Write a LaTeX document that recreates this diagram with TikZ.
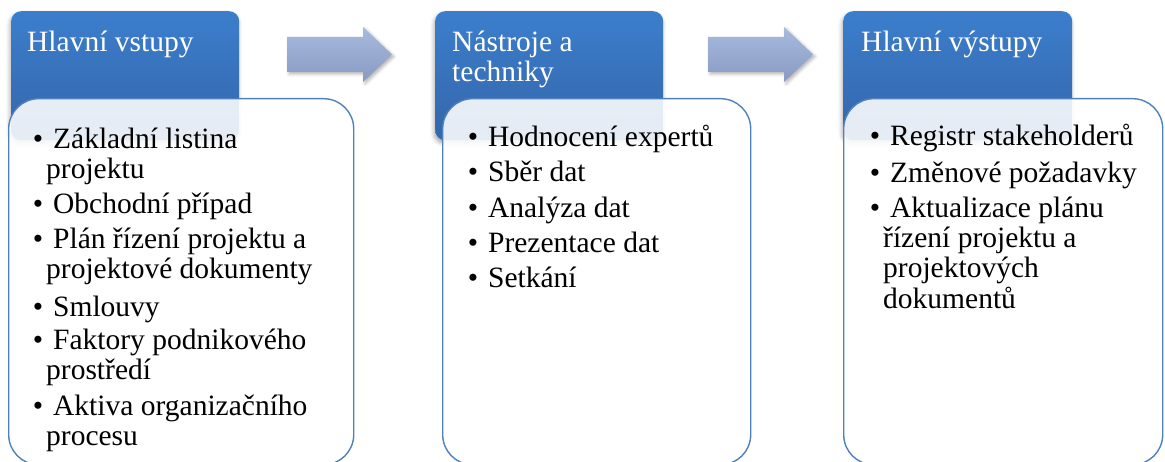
\documentclass[tikz,border=0pt]{standalone}
\usepackage{fontspec}
\setmainfont{Liberation Serif}
\usetikzlibrary{shadows.blur}

\definecolor{hdtop}{RGB}{60,126,204}
\definecolor{hdbot}{RGB}{52,102,170}
\definecolor{boxline}{RGB}{79,129,189}
\definecolor{arrtop}{RGB}{168,186,222}
\definecolor{arrbot}{RGB}{136,154,194}

% bullet hung in front of the first line of an item
\newcommand{\itm}{\hspace*{7pt}\llap{•\hspace{10pt}}}
% lines stacked downwards from the first baseline
\newcommand{\lns}[1]{\begin{tabular}[t]{@{}l@{}}#1\end{tabular}}

\begin{document}
\begin{tikzpicture}[x=1pt,y=-1pt,
  header/.style={rectangle, rounded corners=10pt, top color=hdtop, bottom color=hdbot,
    draw=none, anchor=north west, inner sep=0pt, minimum height=129pt,
    blur shadow={shadow xshift=-1pt, shadow yshift=-3pt, shadow blur radius=4pt, shadow opacity=35}},
  listbox/.style={rectangle, rounded corners=30pt, draw=boxline, line width=1.4pt,
    fill=white, fill opacity=0.88, anchor=north west, inner sep=0pt, minimum height=366pt},
  flow/.style={top color=arrtop, bottom color=arrbot,
    blur shadow={shadow xshift=2pt, shadow yshift=-2pt, shadow blur radius=3pt, shadow opacity=30}},
  lines/.style={font=\fontsize{29.5}{30}\selectfont, inner sep=0pt, anchor=base west},
  title/.style={lines, text=white},
  entry/.style={lines, text=black}]

\useasboundingbox (0,0) rectangle (1165,462);

% header tabs
\node[header, minimum width=228pt] (h1) at (11,11) {};
\node[header, minimum width=228pt] (h2) at (435,11) {};
\node[header, minimum width=229pt] (h3) at (843,11) {};

% process arrows between the columns
\path[flow] (287,37) -- (363,37) -- (363,27) -- (392,54.5) -- (363,82) -- (363,72) -- (287,72) -- cycle;
\path[flow] (708,37) -- (784,37) -- (784,27) -- (813,54.5) -- (784,82) -- (784,72) -- (708,72) -- cycle;

% list panels
\node[listbox, minimum width=345pt] (b1) at (8,98) {};
\node[listbox, minimum width=308pt] (b2) at (442,98) {};
\node[listbox, minimum width=319pt] (b3) at (843,98) {};

% titles
\node[title] (t1) at (27,52) {\lns{Hlavní vstupy}};
\node[title] (t2) at (452,52) {\lns{Nástroje a\\techniky}};
\node[title] (t3) at (861,52) {\lns{Hlavní výstupy}};

% inputs
\node[entry] (l1) at (46,149) {\lns{\itm Základní listina\\projektu}};
\node[entry] (l2) at (46,214) {\lns{\itm Obchodní případ}};
\node[entry] (l3) at (46,249) {\lns{\itm Plán řízení projektu a\\projektové dokumenty}};
\node[entry] (l4) at (46,317) {\lns{\itm Smlouvy}};
\node[entry] (l5) at (46,350) {\lns{\itm Faktory podnikového\\prostředí}};
\node[entry] (l6) at (46,415) {\lns{\itm Aktiva organizačního\\procesu}};

% tools and techniques
\node[entry] (m1) at (481,147) {\lns{\itm Hodnocení expertů}};
\node[entry] (m2) at (481,182) {\lns{\itm Sběr dat}};
\node[entry] (m3) at (481,218) {\lns{\itm Analýza dat}};
\node[entry] (m4) at (481,253) {\lns{\itm Prezentace dat}};
\node[entry] (m5) at (481,288) {\lns{\itm Setkání}};

% outputs
\node[entry] (r1) at (883,146) {\lns{\itm Registr stakeholderů}};
\node[entry] (r2) at (883,183) {\lns{\itm Změnové požadavky}};
\node[entry] (r3) at (883,218) {\lns{\itm Aktualizace plánu\\řízení projektu a\\projektových\\dokumentů}};

\end{tikzpicture}
\end{document}
